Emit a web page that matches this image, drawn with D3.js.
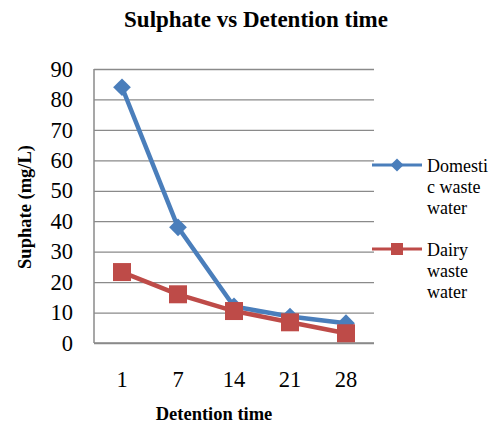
<!DOCTYPE html>
<html>
<head>
<meta charset="utf-8">
<script src="https://cdn.jsdelivr.net/npm/d3@7"></script>
<style>
  body { margin: 0; background: #fff; }
</style>
</head>
<body>
<svg id="grafico"></svg>
<script>
// Datos del gráfico
var categorias = ["1", "7", "14", "21", "28"];
var domestica = [84, 38, 12, 8.7, 6.5];
var lecheria = [23.3, 16, 10.5, 6.8, 3.2];
var ticksY = [0, 10, 20, 30, 40, 50, 60, 70, 80, 90];
var nombresSeries = [["Domesti", "c waste", "water"], ["Dairy", "waste", "water"]];

var anchura = 492, altura = 427;
var izq = 94, der = 374, arriba = 69, abajo = 343;
var fuente = "'Liberation Serif', 'Times New Roman', Times, serif";

var svg = d3.select("#grafico").attr("width", anchura).attr("height", altura);

var x = d3.scaleBand().domain(categorias).range([izq, der]);
var y = d3.scaleLinear().domain([0, 90]).range([abajo, arriba]);

//Lineas de cuadricula
svg.append("g")
  .attr("transform", "translate(" + izq + ",0)")
  .call(d3.axisLeft(y).tickValues(ticksY).tickSize(-(der - izq)).tickFormat(""))
  .call(g => g.select(".domain").remove())
  .selectAll("line").attr("stroke", "#8a8a8a").attr("stroke-width", 1.3);

//Etiquetas eje Y
svg.append("g")
  .attr("transform", "translate(" + (izq - 5) + ",0)")
  .call(d3.axisLeft(y).tickValues(ticksY).tickSize(0).tickPadding(16))
  .call(g => g.select(".domain").remove())
  .selectAll("text")
  .attr("font-family", fuente)
  .attr("font-size", 22.5)
  .attr("fill", "#000");

//Ejes
svg.append("line").attr("x1", izq).attr("x2", izq).attr("y1", arriba).attr("y2", abajo)
  .attr("stroke", "#8a8a8a").attr("stroke-width", 1.5);
svg.append("line").attr("x1", izq).attr("x2", der).attr("y1", abajo).attr("y2", abajo)
  .attr("stroke", "#8a8a8a").attr("stroke-width", 1.5);

//Etiquetas eje X
svg.append("g")
  .attr("transform", "translate(0," + abajo + ")")
  .call(d3.axisBottom(x).tickSize(0).tickPadding(28))
  .call(g => g.select(".domain").remove())
  .selectAll("text")
  .attr("font-family", fuente)
  .attr("font-size", 22.5)
  .attr("fill", "#000");

var cx = function (d, i) { return x(categorias[i]) + x.bandwidth() / 2; };
var linea = d3.line().x(cx).y(function (d) { return y(d); });

var azul = "#4a7ebb", rojo = "#be4b48";

//Serie doméstica
svg.append("path").datum(domestica).attr("d", linea)
  .attr("fill", "none").attr("stroke", azul).attr("stroke-width", 4.5).attr("stroke-linejoin", "round");
svg.selectAll(".diamante").data(domestica).join("path")
  .attr("class", "diamante")
  .attr("d", d3.symbol().type(d3.symbolDiamond2).size(200))
  .attr("transform", function (d, i) { return "translate(" + cx(d, i) + "," + y(d) + ")"; })
  .attr("fill", azul);

//Serie lechería
svg.append("path").datum(lecheria).attr("d", linea)
  .attr("fill", "none").attr("stroke", rojo).attr("stroke-width", 4.5).attr("stroke-linejoin", "round");
svg.selectAll(".cuadro").data(lecheria).join("rect")
  .attr("class", "cuadro")
  .attr("x", function (d, i) { return cx(d, i) - 9; })
  .attr("y", function (d) { return y(d) - 9; })
  .attr("width", 18).attr("height", 18)
  .attr("fill", rojo);

//Titulo
svg.append("text").attr("x", 256).attr("y", 27).attr("text-anchor", "middle")
  .attr("font-family", fuente).attr("font-size", 23).attr("font-weight", "bold")
  .text("Sulphate vs Detention time");

svg.append("text").attr("x", 214).attr("y", 420).attr("text-anchor", "middle")
  .attr("font-family", fuente).attr("font-size", 18.5).attr("font-weight", "bold")
  .text("Detention time");

svg.append("text").attr("transform", "translate(31,207) rotate(-90)").attr("text-anchor", "middle")
  .attr("font-family", fuente).attr("font-size", 18.5).attr("font-weight", "bold")
  .text("Suphate (mg/L)");

//Leyenda
var leyenda = [
  { color: azul, y: 165, tipo: "diamante", texto: nombresSeries[0] },
  { color: rojo, y: 249, tipo: "cuadro", texto: nombresSeries[1] }
];
leyenda.forEach(function (l) {
  svg.append("line").attr("x1", 372).attr("x2", 422).attr("y1", l.y).attr("y2", l.y)
    .attr("stroke", l.color).attr("stroke-width", 3);
  if (l.tipo === "diamante") {
    svg.append("path").attr("d", d3.symbol().type(d3.symbolDiamond2).size(110))
      .attr("transform", "translate(397," + l.y + ")").attr("fill", l.color);
  } else {
    svg.append("rect").attr("x", 391).attr("y", l.y - 6).attr("width", 12).attr("height", 12)
      .attr("fill", l.color);
  }
  l.texto.forEach(function (t, k) {
    svg.append("text").attr("x", 427).attr("y", l.y + 7 + k * 21)
      .attr("font-family", fuente).attr("font-size", 18).text(t);
  });
});
</script>
</body>
</html>
